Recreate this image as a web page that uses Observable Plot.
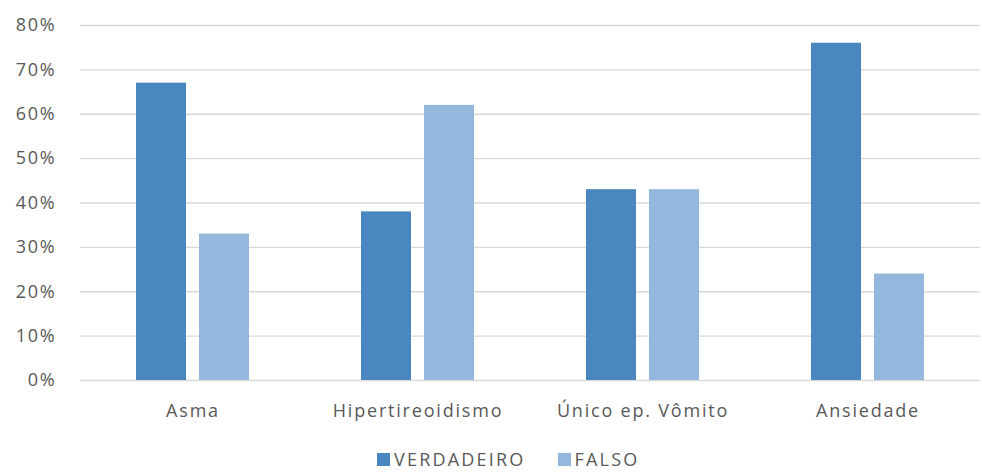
<!DOCTYPE html>
<html>
<head>
<meta charset="utf-8">
<script src="https://cdn.jsdelivr.net/npm/d3@7"></script>
<script src="https://cdn.jsdelivr.net/npm/@observablehq/plot@0.6"></script>
<style>
  body { margin: 0; background: #fff; font-family: "Open Sans", sans-serif; }
  #chart { width: 982px; height: 472px; position: relative; overflow: hidden; }
  .legend { position: absolute; top: 448px; left: 377px; display: flex; gap: 32px; font-size: 18px; line-height: 22px; color: #595959; letter-spacing: 2.2px; }
  .legend span.item { display: flex; align-items: center; }
  .legend i { display: inline-block; width: 13px; height: 13px; margin-right: 4px; }
</style>
</head>
<body>
<div id="chart"></div>
<script>
const categories = ["Asma", "Hipertireoidismo", "Único ep. Vômito", "Ansiedade"];
const series = ["VERDADEIRO", "FALSO"];
const verdadeiro = [0.67, 0.38, 0.43, 0.76];
const falso = [0.33, 0.62, 0.43, 0.24];
const colors = ["#4a87c0", "#94b7de"];
const yTicks = [0, 0.1, 0.2, 0.3, 0.4, 0.5, 0.6, 0.7, 0.8];

const rows = categories.flatMap((c, i) => [
  {categoria: c, serie: series[0], valor: verdadeiro[i]},
  {categoria: c, serie: series[1], valor: falso[i]}
]);

const chart = Plot.plot({
  width: 982,
  height: 440,
  marginLeft: 80,
  marginRight: 2,
  marginTop: 25,
  marginBottom: 60,
  style: {fontFamily: "Open Sans, sans-serif", fontSize: "18px", color: "#595959", letterSpacing: "1.8px"},
  fx: {domain: categories, padding: 0, label: null, axis: null},
  x: {domain: series, paddingInner: 0.2, paddingOuter: 0.86, axis: null},
  y: {domain: [0, 0.8], ticks: yTicks, tickFormat: d3.format(".0%"), label: null, axis: null},
  color: {domain: series, range: colors},
  marks: [
    Plot.gridY(yTicks, {stroke: "#d9d9d9", strokeOpacity: 1, strokeWidth: 1.3}),
    Plot.axisY(yTicks, {tickSize: 0, tickPadding: 24, tickFormat: d3.format(".0%"), fontSize: 18, fill: "#595959", label: null}),
    Plot.axisFx({anchor: "bottom", tickSize: 0, tickPadding: 24, fontSize: 18, fill: "#595959", label: null}),
    Plot.barY(rows, {fx: "categoria", x: "serie", y: "valor", fill: "serie"})
  ]
});
document.getElementById("chart").appendChild(chart);

const legend = document.createElement("div");
legend.className = "legend";
series.forEach((s, i) => {
  const item = document.createElement("span");
  item.className = "item";
  item.innerHTML = `<i style="background:${colors[i]}"></i>${s}`;
  legend.appendChild(item);
});
document.getElementById("chart").appendChild(legend);
</script>
</body>
</html>
